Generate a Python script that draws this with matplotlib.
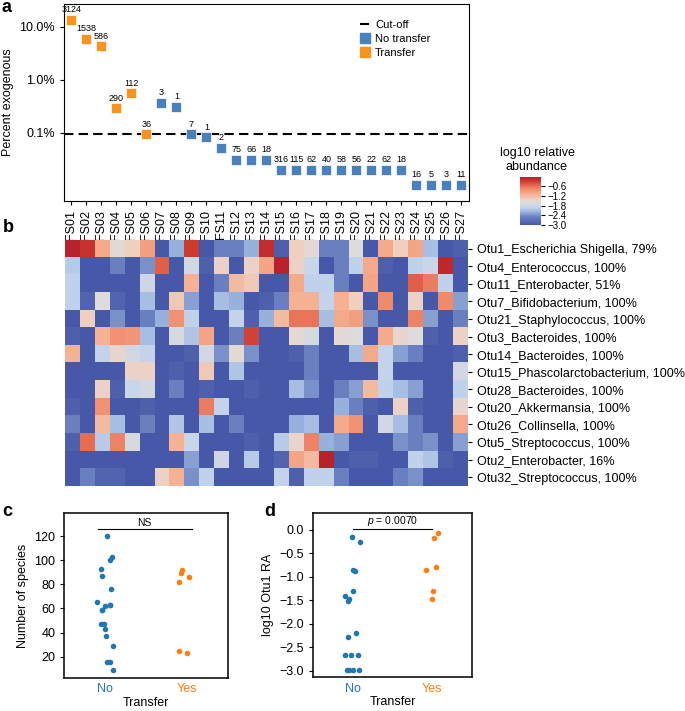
import numpy as np
import matplotlib
matplotlib.use('Agg')
import matplotlib.pyplot as plt
from matplotlib.colors import LinearSegmentedColormap
from matplotlib.lines import Line2D
from matplotlib.ticker import FixedLocator, FuncFormatter, NullLocator

plt.rcParams['font.family'] = ['Liberation Sans', 'DejaVu Sans']
plt.rcParams['font.size'] = 9
plt.rcParams['mathtext.fontset'] = 'custom'
plt.rcParams['mathtext.it'] = 'Liberation Sans:italic'
plt.rcParams['mathtext.rm'] = 'Liberation Sans'

# ---- panel a data ----
samples = ['FS%02d' % i for i in range(1, 28)]
pct_exogenous = [13.5, 5.9, 4.3, 0.29, 0.56, 0.093, 0.37, 0.31, 0.093, 0.082,
                 0.052, 0.031, 0.031, 0.031, 0.020, 0.020, 0.020, 0.020, 0.020,
                 0.020, 0.020, 0.020, 0.020, 0.0103, 0.0103, 0.0103, 0.0103]
read_counts = [3124, 1538, 586, 290, 112, 36, 3, 1, 7, 1, 2, 75, 66, 18, 316,
               115, 62, 40, 58, 56, 22, 62, 18, 16, 5, 3, 11]
transferred = [True] * 6 + [False] * 21
cutoff = 0.093

# ---- panel b data (log10 relative abundance, rows = OTUs, cols = FS01..FS27) ----
otu_labels = ['Otu1_Escherichia Shigella, 79%', 'Otu4_Enterococcus, 100%',
              'Otu11_Enterobacter, 51%', 'Otu7_Bifidobacterium, 100%',
              'Otu21_Staphylococcus, 100%', 'Otu3_Bacteroides, 100%',
              'Otu14_Bacteroides, 100%', 'Otu15_Phascolarctobacterium, 100%',
              'Otu28_Bacteroides, 100%', 'Otu20_Akkermansia, 100%',
              'Otu26_Collinsella, 100%', 'Otu5_Streptococcus, 100%',
              'Otu2_Enterobacter, 16%', 'Otu32_Streptococcus, 100%']
otu1 = [-0.1, -0.25, -1.05, -1.55, -1.4, -0.95, -3, -2.2, -0.3, -3, -2.5, -2.5, -2.2, -0.2,
        -2.9, -1.4, -1.55, -2.5, -2.5, -1.6, -3, -1.05, -1.4, -1.0, -2.1, -3, -2.9]
otu4 = [-2.0, -3, -3, -2.5, -3, -2.4, -0.5, -3, -1.75, -2.9, -1.45, -3, -1.45, -1.0,
        -0.1, -1.45, -1.85, -3, -2.5, -1.95, -1.05, -2.9, -3, -1.95, -1.85, -0.15, -3]
otu11 = [-1.95, -3, -3, -3, -3, -1.8, -3, -3, -1.1, -3, -2.5, -1.2, -1.35, -3,
         -3, -1.05, -1.95, -1.95, -2.5, -3, -1.0, -3, -3, -0.5, -0.7, -1.95, -3]
otu7 = [-1.95, -2.85, -1.6, -2.85, -3, -2.1, -3, -1.35, -2.3, -3, -2.1, -2.2, -3, -2.9,
        -2.5, -1.1, -1.1, -1.9, -1.1, -1.4, -3, -0.8, -3, -1.45, -3, -0.8, -2.3]
otu21 = [-3, -1.4, -3, -2.4, -3, -2.5, -2.2, -0.85, -1.95, -3, -3, -1.9, -2.9, -2.2,
         -1.2, -0.65, -0.65, -2.1, -1.05, -0.95, -2.4, -3, -3, -0.75, -2.3, -3, -2.5]
otu3 = [-2.9, -3, -1.1, -0.85, -0.9, -2.1, -3, -1.7, -2.05, -1.0, -3, -2.5, -0.35, -3,
        -3, -1.55, -1.7, -3, -1.55, -1.6, -3, -1.05, -1.5, -1.6, -2.9, -3, -1.45]
otu14 = [-1.1, -3, -1.9, -1.5, -1.75, -1.9, -3, -3, -2.9, -1.75, -2.4, -1.55, -2.4, -3,
         -3, -2.9, -2.5, -3, -3, -2.1, -1.05, -1.9, -2.3, -2.5, -3, -3, -2.9]
otu15 = [-3, -3, -3, -3, -1.45, -1.45, -3, -2.9, -3, -1.35, -3, -2.05, -3, -3,
         -3, -3, -2.5, -3, -3, -3, -3, -1.9, -3, -3, -3, -3, -1.75]
otu28 = [-3, -3, -1.45, -2.9, -1.85, -1.75, -3, -2.5, -3, -2.9, -3, -3, -2.9, -3,
         -3, -2.1, -2.4, -3, -2.5, -2.3, -1.2, -1.95, -2.1, -2.3, -3, -3, -1.95]
otu20 = [-2.9, -3, -0.85, -3, -3, -2.9, -3, -3, -3, -0.7, -1.9, -3, -3, -3,
         -3, -3, -3, -3, -2.2, -2.5, -2.9, -3, -1.45, -2.9, -3, -3, -1.5]
otu26 = [-2.5, -3, -1.2, -2.1, -3, -2.5, -3, -2.05, -3, -2.1, -3, -2.5, -3, -3,
         -3, -2.2, -2.1, -3, -1.05, -0.85, -3, -1.75, -2.1, -2.5, -3, -3, -1.05]
otu5 = [-2.9, -0.6, -2.0, -0.75, -1.7, -3, -3, -1.1, -1.85, -3, -3, -3, -2.9, -3,
        -2.0, -1.5, -0.75, -2.2, -2.3, -3, -3, -3, -2.4, -2.5, -2.4, -3, -2.3]
otu2 = [-3, -3, -3, -3, -3, -3, -3, -3, -2.3, -3, -1.8, -3, -2.0, -3,
        -2.85, -1.0, -1.2, -0.1, -3, -2.9, -2.9, -3, -3, -1.95, -2.05, -2.9, -3]
otu32 = [-3, -2.5, -2.85, -2.85, -3, -3, -1.45, -1.1, -2.4, -1.95, -3, -3, -3, -3,
         -1.9, -2.9, -1.95, -1.95, -2.5, -3, -3, -3, -2.5, -2.4, -3, -3, -3]
heat = np.array([otu1, otu4, otu11, otu7, otu21, otu3, otu14, otu15,
                 otu28, otu20, otu26, otu5, otu2, otu32])

# ---- panel c / d data ----
species_no = [120, 103, 100, 93, 87, 76, 65, 63, 63, 62, 59, 59, 47, 47, 43, 37, 29, 16, 16, 9]
species_yes = [92, 89, 86, 82, 25, 23]
otu1_no = [-0.15, -0.25, -0.87, -0.85, -1.30, -1.46, -1.40, -1.51, -2.20, -2.27,
           -2.67, -2.67, -2.67, -2.97, -2.97, -2.97, -2.97]
otu1_yes = [-0.06, -0.18, -0.79, -0.85, -1.31, -1.48]

blue_a = '#4a81bd'
orange_a = '#f7931e'
blue = '#1f77b4'
orange = '#ff7f0e'

cmap = LinearSegmentedColormap.from_list('rb', [
    (0.00, '#4858a8'), (0.17, '#6a80c0'), (0.27, '#98b0dc'), (0.36, '#c2d3ec'),
    (0.475, '#dfdcdc'), (0.54, '#f0d0c0'), (0.66, '#f5ac8c'), (0.75, '#ef8a6a'),
    (0.85, '#e05e48'), (0.915, '#cc3a30'), (1.00, '#b41e2a')])

fig = plt.figure(figsize=(6.85, 7.11), dpi=100)

# ---------------- a ----------------
ax = fig.add_axes([0.0934, 0.7173, 0.591, 0.277])
xs = np.arange(len(samples))
for xi, yi, n, t in zip(xs, pct_exogenous, read_counts, transferred):
    ax.plot(xi, yi, 's', color=orange_a if t else blue_a, ms=6.8, mec='white', mew=0.5, zorder=3)
    ax.annotate(str(n), (xi, yi), xytext=(0, 4), textcoords='offset points',
                ha='center', va='bottom', fontsize=6.5)
ax.axhline(cutoff, color='black', lw=1.5, ls=(0, (4.5, 2.5)), zorder=2)
ax.set_yscale('log')
ax.set_ylim(0.0051, 27)
ax.set_xlim(-0.5, 26.5)
ax.yaxis.set_major_locator(FixedLocator([0.1, 1, 10]))
ax.yaxis.set_major_formatter(FuncFormatter(lambda v, p: '%.1f%%' % v))
ax.yaxis.set_minor_locator(NullLocator())
ax.set_xticks(xs)
ax.set_xticklabels(samples, rotation=90)
ax.tick_params(length=3, width=0.8)
ax.set_ylabel('Percent exogenous')
handles = [Line2D([], [], color='black', lw=1.5),
           Line2D([], [], marker='s', ls='', color=blue_a, ms=6.5),
           Line2D([], [], marker='s', ls='', color=orange_a, ms=6.5)]
ax.legend(handles, ['Cut-off', 'No transfer', 'Transfer'], loc='upper right',
          bbox_to_anchor=(0.93, 0.97), frameon=False, fontsize=8,
          handlelength=0.7, handletextpad=0.6, labelspacing=0.35)

# ---------------- b ----------------
axb = fig.add_axes([0.0949, 0.3165, 0.588, 0.346])
im = axb.imshow(heat, cmap=cmap, vmin=-3, vmax=-0.05, aspect='auto', interpolation='nearest')
axb.set_xticks([])
axb.yaxis.tick_right()
axb.set_yticks(np.arange(len(otu_labels)))
axb.set_yticklabels(otu_labels)
axb.tick_params(axis='y', length=3, width=0.8)
for s in axb.spines.values():
    s.set_visible(False)

cax = fig.add_axes([0.759, 0.6835, 0.0307, 0.0675])
cb = fig.colorbar(im, cax=cax, ticks=[-0.6, -1.2, -1.8, -2.4, -3.0])
cb.outline.set_visible(False)
cb.ax.tick_params(labelsize=7, length=3, width=0.8, pad=2)
fig.text(537 / 685, 1 - 160 / 711, 'log10 relative\nabundance', ha='center', va='center',
         fontsize=9, linespacing=1.15)

# ---------------- c / d ----------------
rng = np.random.default_rng(7)


def strip(axis, groups):
    for i, (vals, c) in enumerate(zip(groups, [blue, orange])):
        jit = rng.uniform(-0.1, 0.1, len(vals))
        axis.scatter(i + jit, vals, s=16, color=c, lw=0, zorder=3)
    axis.set_xlim(-0.5, 1.5)
    axis.set_xticks([0, 1])
    axis.set_xticklabels(['No', 'Yes'])
    for lab, c in zip(axis.get_xticklabels(), [blue, orange]):
        lab.set_color(c)
    axis.tick_params(axis='x', length=0, pad=4)
    axis.tick_params(axis='y', length=3, width=0.8)
    axis.set_xlabel('Transfer', labelpad=1)
    for s in axis.spines.values():
        s.set_linewidth(1.1)


axc = fig.add_axes([0.0939, 0.0468, 0.2385, 0.2312])
strip(axc, [species_no, species_yes])
axc.set_ylim(2.6, 138.8)
axc.set_yticks([20, 40, 60, 80, 100, 120])
axc.set_ylabel('Number of species')
axc.plot([-0.09, 1.06], [125.8, 125.8], color='black', lw=0.8)
axc.text(0.485, 127, 'NS', ha='center', va='bottom', fontsize=7.5)

axd = fig.add_axes([0.4574, 0.0475, 0.2312, 0.2307])
strip(axd, [otu1_no, otu1_yes])
axd.set_ylim(-3.134, 0.355)
axd.set_yticks([0.0, -0.5, -1.0, -1.5, -2.0, -2.5, -3.0])
axd.yaxis.set_major_formatter(FuncFormatter(lambda v, p: ('%.1f' % v).replace('-', '\u2212')))
axd.set_ylabel('log10 Otu1 RA')
axd.plot([0, 1], [0.028, 0.028], color='black', lw=0.8)
axd.text(0.5, 0.04, r'$p$ = 0.0070', ha='center', va='bottom', fontsize=7.5)

# panel letters
for lx, ly, lab in [(2, 8, 'a'), (3, 227, 'b'), (2, 512, 'c'), (264, 511, 'd')]:
    fig.text(lx / 685, 1 - ly / 711, lab, fontsize=13, fontweight='bold', va='center', ha='left')

fig.savefig('out.png', dpi=100)
